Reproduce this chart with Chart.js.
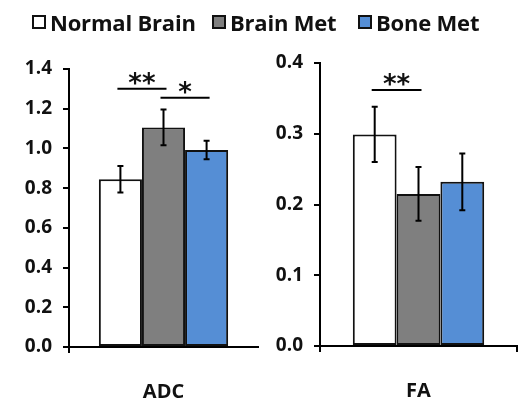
<!DOCTYPE html>
<html><head><meta charset="utf-8">
<script src="https://cdn.jsdelivr.net/npm/chart.js@4"></script>
<style>
html,body{margin:0;padding:0;background:#fff;width:524px;height:402px;overflow:hidden;}
#wrap{position:relative;width:524px;height:402px;}
canvas{position:absolute;top:0;}
.lg{position:absolute;top:11px;display:flex;align-items:center;font-family:"Open Sans",sans-serif;font-weight:bold;font-size:22px;color:#111;white-space:nowrap;line-height:22px;letter-spacing:-0.2px;}
.lg span.b{display:inline-block;width:10px;height:10px;border:2px solid #111;margin-right:4px;}
</style></head>
<body><div id="wrap">
<canvas id="c1" width="262" height="402" style="left:0"></canvas>
<canvas id="c2" width="262" height="402" style="left:262px"></canvas>
<div id="legend"></div>
</div>
<script>
// ---- data ----
const seriesNames = ['Normal Brain','Brain Met','Bone Met'];
const seriesColors = ['#ffffff','#7f7f7f','#558ed5'];
const adcLabel = ['ADC'];
const adcMean = [0.845, 1.106, 0.992];
const adcErr  = [0.067, 0.090, 0.047];
const adcTicks = [0.0,0.2,0.4,0.6,0.8,1.0,1.2,1.4];
const faLabel = ['FA'];
const faMean = [0.299, 0.215, 0.232];
const faErr  = [0.039, 0.038, 0.040];
const faTicks = [0.0,0.1,0.2,0.3,0.4];
// significance: [fromSeries, toSeries, level, label]
const adcSig = [[0,1,1.30,'**'],[1,2,1.255,'*']];
const faSig  = [[0,1,0.362,'**']];

const FONT = '"Open Sans", sans-serif';

// legend
const lg = document.getElementById('legend');
const lgLeft = [32, 212, 358];
seriesNames.forEach((n,i)=>{
  const d = document.createElement('div');
  d.className='lg'; d.style.left = lgLeft[i]+'px';
  d.innerHTML = '<span class="b" style="background:'+seriesColors[i]+'"></span>'+n;
  lg.appendChild(d);
});

const errPlugin = {
  id:'errs',
  afterDatasetsDraw(chart, args, opts){
    const ctx = chart.ctx, ys = chart.scales.y;
    ctx.save();
    ctx.strokeStyle = '#000'; ctx.lineWidth = 2;
    chart.data.datasets.forEach((ds,i)=>{
      const el = chart.getDatasetMeta(i).data[0];
      const v = ds.data[0], e = opts.err[i];
      const yt = ys.getPixelForValue(v+e), yb = ys.getPixelForValue(v-e);
      ctx.beginPath();
      ctx.moveTo(el.x, yt); ctx.lineTo(el.x, yb);
      ctx.moveTo(el.x-3, yt); ctx.lineTo(el.x+3, yt);
      ctx.moveTo(el.x-3, yb); ctx.lineTo(el.x+3, yb);
      ctx.stroke();
    });
    // significance
    ctx.fillStyle = '#111';
    ctx.font = 'bold 26px "DejaVu Sans", sans-serif';
    ctx.textAlign = 'center'; ctx.textBaseline = 'alphabetic';
    opts.sig.forEach(s=>{
      const a = chart.getDatasetMeta(s[0]).data[0].x;
      const b = chart.getDatasetMeta(s[1]).data[0].x;
      const py = ys.getPixelForValue(s[2]);
      ctx.beginPath(); ctx.moveTo(a-3, py); ctx.lineTo(b+3, py); ctx.stroke();
      ctx.fillText(s[3], (a+b)/2, py+3);
    });
    ctx.restore();
  }
};

function makeChart(id, label, mean, err, ticks, sig, yWidth, padRight, top, bottomH, catPct, rightTick){
  return new Chart(document.getElementById(id), {
    type:'bar',
    data:{
      labels: label,
      datasets: seriesNames.map((n,i)=>({
        label:n, data:[mean[i]], backgroundColor:seriesColors[i],
        borderColor:'#111', borderWidth:2, borderSkipped:false
      }))
    },
    options:{
      responsive:false, animation:false,
      layout:{padding:{top:top, right:padRight, left:0, bottom:0}},
      plugins:{legend:{display:false}, tooltip:{enabled:false}, errs:{err:err, sig:sig}},
      datasets:{bar:{categoryPercentage:catPct, barPercentage:1}},
      scales:{
        x:{
          grid:{display:true, drawOnChartArea:false, tickLength:6, lineWidth:2,
                color: c => (c.index===0 || rightTick) ? '#000' : 'rgba(0,0,0,0)'},
          border:{color:'#000', width:2},
          ticks:{font:{family:FONT, weight:'bold', size:20}, color:'#111', padding:27},
          afterFit: s => { s.height = bottomH; }
        },
        y:{
          min:ticks[0], max:ticks[ticks.length-1],
          afterBuildTicks: s => { s.ticks = ticks.map(v=>({value:v})); },
          grid:{display:true, drawOnChartArea:false, tickLength:6, lineWidth:2, color:'#000'},
          border:{color:'#000', width:2},
          ticks:{font:{family:FONT, weight:'bold', size:19}, color:'#111', padding:11,
                 callback: v => Number(v).toFixed(1)},
          afterFit: s => { s.width = yWidth; }
        }
      }
    },
    plugins:[errPlugin]
  });
}

makeChart('c1', adcLabel, adcMean, adcErr, adcTicks, adcSig, 69, 4, 69, 55, 0.684, false);
makeChart('c2', faLabel, faMean, faErr, faTicks, faSig, 58, 7, 63, 56, 0.667, true);
</script>
</body></html>
